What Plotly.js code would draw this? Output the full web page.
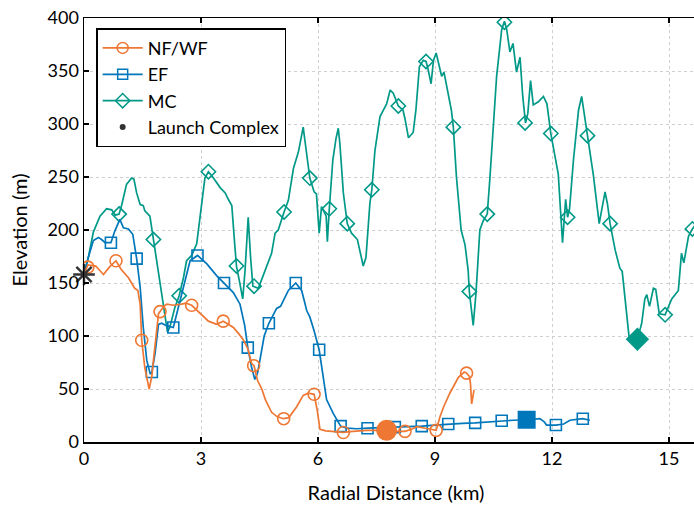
<!DOCTYPE html>
<html>
<head>
<meta charset="utf-8">
<script src="https://cdn.plot.ly/plotly-3.0.1.min.js"></script>
<style>
html, body { margin: 0; padding: 0; overflow: hidden; background: #fff; }
#chart { width: 720px; height: 510px; }
</style>
</head>
<body>
<div id="chart"></div>
<script>
// ---- Data (distance in km, elevation in m) ----
const nfwfX = [0, 0.1, 0.3, 0.5, 0.65, 0.82, 0.95, 1.05, 1.14, 1.22, 1.3, 1.38, 1.44, 1.48, 1.56, 1.67, 1.74, 1.78, 1.85, 1.91, 1.95, 2.05, 2.12, 2.3, 2.5, 2.62, 2.76, 2.97, 3.19, 3.4, 3.57, 3.7, 3.83, 3.97, 4.09, 4.2, 4.3, 4.36, 4.45, 4.56, 4.65, 4.81, 4.95, 5.11, 5.25, 5.45, 5.55, 5.62, 5.75, 5.9, 5.98, 6.05, 6.2, 6.4, 6.65, 6.9, 7.25, 7.5, 7.76, 8.0, 8.23, 8.4, 8.53, 8.75, 9.03, 9.13, 9.22, 9.38, 9.6, 9.75, 9.81, 9.88, 9.91, 9.94, 9.97, 10.0];
const nfwfY = [158, 167, 166, 158, 165, 171, 163, 159, 155, 150, 145, 143, 130, 96, 70, 50, 62, 77, 100, 121, 123, 128, 130, 129, 130, 131, 129, 122, 114, 111, 114, 111, 108, 102, 96, 88, 74, 72, 58, 50, 40, 28, 24, 22, 23, 33, 39, 44, 46, 45, 30, 12, 10.5, 10, 9, 10, 11, 11, 11, 10, 10, 12, 14.5, 13, 11, 24, 33, 46, 61, 66, 65, 62, 55, 36, 44, 49];
const nfwfMarkX = [0.1, 0.82, 1.48, 1.95, 2.76, 3.57, 4.35, 5.12, 5.9, 6.65, 8.23, 9.03, 9.81];
const nfwfMarkY = [165, 171, 96, 123, 129, 114, 72, 22, 45, 9, 10, 11, 65];
const nfwfEndX = [7.76];
const nfwfEndY = [11];

const efX = [0, 0.11, 0.24, 0.37, 0.45, 0.54, 0.69, 0.79, 0.92, 1.01, 1.14, 1.25, 1.35, 1.44, 1.52, 1.61, 1.7, 1.74, 1.82, 1.91, 1.99, 2.1, 2.29, 2.42, 2.55, 2.72, 2.91, 3.15, 3.4, 3.59, 3.83, 4.0, 4.12, 4.2, 4.3, 4.38, 4.45, 4.51, 4.62, 4.74, 4.94, 5.04, 5.14, 5.24, 5.43, 5.58, 5.65, 5.71, 5.79, 5.9, 6.03, 6.14, 6.22, 6.39, 6.58, 6.74, 7.0, 7.27, 7.6, 7.97, 8.3, 8.66, 9.0, 9.34, 9.7, 10.03, 10.4, 10.71, 11.0, 11.35, 11.69, 11.8, 11.86, 12.1, 12.3, 12.46, 12.79, 12.97];
const efY = [158, 174, 190, 193, 191, 188, 188, 199, 210, 202, 201, 196, 173, 146, 108, 77, 64, 66, 83, 111, 112, 110, 108, 127, 147, 171, 176, 168, 157, 150, 141, 130, 110, 89, 70, 59, 65, 77, 100, 112, 126, 128, 136, 143, 150, 143, 133, 124, 118, 105, 87, 58, 40, 27, 15, 13, 12.5, 13, 13.5, 14, 14, 15, 16, 17, 17.5, 18, 19, 20, 20.5, 21, 22, 19, 16, 16, 17, 20.5, 22, 20.5];
const efMarkX = [0.69, 1.35, 1.74, 2.29, 2.91, 3.59, 4.2, 4.74, 5.43, 6.03, 6.58, 7.27, 7.97, 8.66, 9.34, 10.03, 10.71, 12.1, 12.79];
const efMarkY = [188, 173, 66, 108, 176, 150, 89, 112, 150, 87, 15, 13, 14, 15, 17, 18, 20, 16, 22];
const efEndX = [11.35];
const efEndY = [21];

const mcX = [0, 0.11, 0.24, 0.41, 0.58, 0.71, 0.8, 0.9, 0.97, 1.09, 1.22, 1.28, 1.35, 1.44, 1.52, 1.56, 1.69, 1.78, 1.91, 2.03, 2.14, 2.2, 2.33, 2.44, 2.55, 2.63, 2.76, 2.89, 3.02, 3.1, 3.19, 3.32, 3.49, 3.62, 3.7, 3.79, 3.87, 3.91, 4.0, 4.07, 4.13, 4.21, 4.27, 4.33, 4.47, 4.64, 4.81, 4.9, 4.98, 5.13, 5.24, 5.37, 5.5, 5.62, 5.79, 5.9, 5.96, 6.03, 6.09, 6.21, 6.24, 6.29, 6.38, 6.46, 6.52, 6.56, 6.65, 6.75, 6.86, 7.01, 7.08, 7.16, 7.23, 7.33, 7.38, 7.46, 7.59, 7.68, 7.76, 7.85, 7.93, 8.06, 8.18, 8.23, 8.32, 8.44, 8.51, 8.6, 8.7, 8.77, 8.82, 8.9, 8.96, 9.03, 9.12, 9.17, 9.23, 9.34, 9.42, 9.47, 9.55, 9.67, 9.77, 9.85, 9.88, 9.98, 10.05, 10.15, 10.24, 10.34, 10.41, 10.58, 10.71, 10.78, 10.84, 10.92, 11.0, 11.09, 11.18, 11.25, 11.32, 11.38, 11.45, 11.52, 11.65, 11.78, 11.87, 11.97, 12.16, 12.27, 12.35, 12.4, 12.45, 12.55, 12.68, 12.76, 12.85, 12.91, 13.06, 13.21, 13.36, 13.42, 13.49, 13.62, 13.74, 13.8, 13.9, 13.98, 14.19, 14.3, 14.38, 14.43, 14.5, 14.6, 14.66, 14.75, 14.9, 15.07, 15.24, 15.32, 15.38, 15.5, 15.6, 15.7];
const mcY = [158, 174, 198, 213, 220, 219, 214, 215, 224, 243, 249, 248, 235, 224, 223, 218, 213, 191, 161, 127, 104, 108, 127, 138, 155, 171, 176, 187, 224, 249, 255, 249, 240, 235, 229, 223, 184, 166, 149, 135, 162, 212, 175, 147, 145, 162, 178, 197, 200, 217, 228, 258, 274, 297, 249, 236, 234, 197, 222, 213, 189, 220, 266, 286, 296, 282, 235, 206, 197, 191, 178, 166, 174, 225, 238, 275, 307, 313, 319, 332, 329, 317, 313, 305, 287, 292, 313, 354, 360, 359, 352, 338, 360, 367, 354, 345, 349, 329, 313, 297, 250, 200, 186, 162, 142, 110, 140, 200, 209, 215, 250, 345, 389, 397, 389, 368, 376, 349, 363, 326, 301, 310, 341, 318, 321, 326, 319, 291, 253, 188, 229, 212, 220, 266, 313, 326, 304, 289, 252, 206, 236, 225, 206, 181, 164, 161, 124, 98, 97, 112, 135, 139, 128, 145, 144, 121, 120, 135, 143, 178, 169, 194, 201, 206];
const mcMarkX = [0.9, 1.78, 2.44, 3.19, 3.91, 4.36, 5.13, 5.79, 6.29, 6.75, 7.38, 8.06, 8.77, 9.47, 9.88, 10.34, 10.78, 11.31, 11.97, 12.4, 12.91, 13.49, 14.9, 15.6];
const mcMarkY = [215, 191, 138, 255, 166, 147, 217, 249, 220, 206, 238, 317, 359, 297, 142, 215, 396, 301, 291, 212, 289, 206, 120, 201];
const mcEndX = [14.19];
const mcEndY = [97];

const launchX = [0];
const launchY = [158];

const seriesNames = ['NF/WF', 'EF', 'MC', 'Launch Complex'];

// ---- Styles ----
const cOrange = '#EE7733', cBlue = '#0077BB', cTeal = '#009988', cStar = '#333333';
const LW = 1.7;

const traces = [
  // legend entries
  {x: [null], y: [null], name: seriesNames[0], mode: 'lines+markers', line: {color: cOrange, width: LW},
   marker: {symbol: 'circle-open', size: 11, color: cOrange, line: {width: 1.5}}},
  {x: [null], y: [null], name: seriesNames[1], mode: 'lines+markers', line: {color: cBlue, width: LW},
   marker: {symbol: 'square-open', size: 10, color: cBlue, line: {width: 1.5}}},
  {x: [null], y: [null], name: seriesNames[2], mode: 'lines+markers', line: {color: cTeal, width: LW},
   marker: {symbol: 'diamond-open', size: 11, color: cTeal, line: {width: 1.5}}},
  {x: [null], y: [null], name: seriesNames[3], mode: 'markers',
   marker: {symbol: 'circle', size: 6, color: cStar}},

  // MC
  {x: mcX, y: mcY, mode: 'lines', line: {color: cTeal, width: LW}, showlegend: false, hoverinfo: 'skip'},
  {x: mcMarkX, y: mcMarkY, mode: 'markers', showlegend: false,
   marker: {symbol: 'diamond-open', size: 11, color: cTeal, line: {width: 1.6, color: cTeal}}},
  {x: mcEndX, y: mcEndY, mode: 'markers', showlegend: false,
   marker: {symbol: 'diamond', size: 18, color: cTeal}},

  // EF
  {x: efX, y: efY, mode: 'lines', line: {color: cBlue, width: LW}, showlegend: false, hoverinfo: 'skip'},
  {x: efMarkX, y: efMarkY, mode: 'markers', showlegend: false,
   marker: {symbol: 'square-open', size: 11, color: cBlue, line: {width: 1.6, color: cBlue}}},
  {x: efEndX, y: efEndY, mode: 'markers', showlegend: false,
   marker: {symbol: 'square', size: 18, color: cBlue}},

  // NF/WF
  {x: nfwfX, y: nfwfY, mode: 'lines', line: {color: cOrange, width: LW}, showlegend: false, hoverinfo: 'skip'},
  {x: nfwfMarkX, y: nfwfMarkY, mode: 'markers', showlegend: false,
   marker: {symbol: 'circle-open', size: 12, color: cOrange, line: {width: 1.6, color: cOrange}}},
  {x: nfwfEndX, y: nfwfEndY, mode: 'markers', showlegend: false,
   marker: {symbol: 'circle', size: 21, color: cOrange}},

  // Launch complex
  {x: launchX, y: launchY, mode: 'markers', showlegend: false, cliponaxis: false,
   marker: {symbol: 'asterisk-open', size: 18, color: cStar, line: {width: 2.4, color: cStar}}}
];

const axisCommon = {
  ticks: 'inside', ticklen: 5, tickwidth: 1.5, tickcolor: '#000',
  showline: true, linecolor: '#000', linewidth: 1.5, mirror: 'ticks',
  showgrid: true, gridcolor: '#cfcfcf', griddash: 'dot', gridwidth: 1,
  zeroline: false, tickfont: {size: 18, color: '#000'}
};

const layout = {
  width: 720, height: 510,
  margin: {l: 84, r: 12, t: 18, b: 68},
  paper_bgcolor: '#fff', plot_bgcolor: '#fff',
  font: {family: 'Lato, "Open Sans", sans-serif', color: '#000', size: 18},
  showlegend: true,
  legend: {
    x: 0.0195, y: 0.976, xanchor: 'left', yanchor: 'top',
    bgcolor: '#fff', bordercolor: '#000', borderwidth: 1.5,
    font: {size: 18, color: '#000'}, itemwidth: 40
  },
  xaxis: Object.assign({}, axisCommon, {
    range: [0, 16], tick0: 0, dtick: 3,
    title: {text: 'Radial Distance (km)', font: {size: 20}, standoff: 18}
  }),
  yaxis: Object.assign({}, axisCommon, {
    range: [0, 400], tick0: 0, dtick: 50,
    title: {text: 'Elevation (m)', font: {size: 20}, standoff: 14}
  })
};

Plotly.newPlot('chart', traces, layout, {staticPlot: true, displayModeBar: false});
</script>
</body>
</html>
